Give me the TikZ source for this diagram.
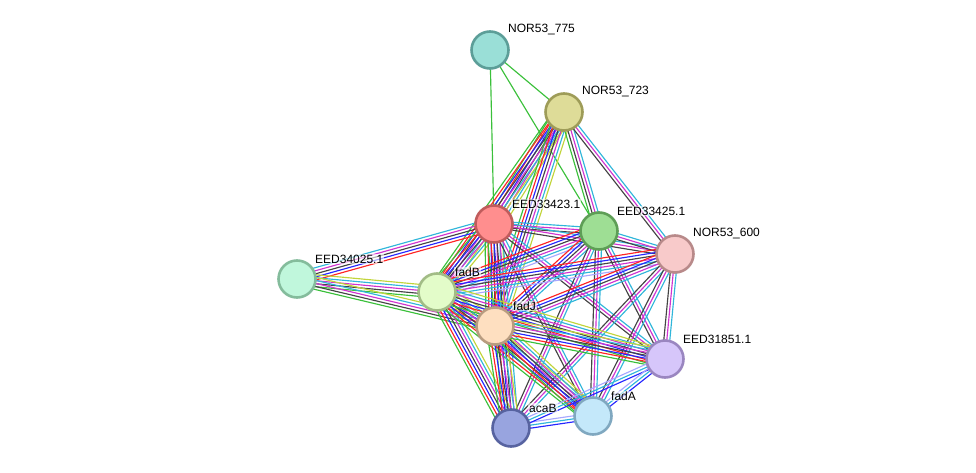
\documentclass[tikz,border=0pt]{standalone}
\usepackage{fontspec}
\setmainfont{Liberation Sans}
\usetikzlibrary{calc,backgrounds}

\definecolor{ng}{HTML}{3AC03A}
\definecolor{fu}{HTML}{FF2424}
\definecolor{co}{HTML}{2626FF}
\definecolor{cx}{HTML}{444444}
\definecolor{ex}{HTML}{D033D0}
\definecolor{db}{HTML}{30B6DA}
\definecolor{tm}{HTML}{C2D43A}
\definecolor{ho}{HTML}{A8A8FF}

\definecolor{f775}{HTML}{9ADFD7}\definecolor{d775}{HTML}{5C9E98}
\definecolor{f723}{HTML}{DEDC98}\definecolor{d723}{HTML}{9E9C58}
\definecolor{fE23}{HTML}{FF8E8E}\definecolor{dE23}{HTML}{C05C5C}
\definecolor{fE25}{HTML}{9EDE94}\definecolor{dE25}{HTML}{5E9E56}
\definecolor{f600}{HTML}{F8CACA}\definecolor{d600}{HTML}{B88A8A}
\definecolor{fE34}{HTML}{C0F7DC}\definecolor{dE34}{HTML}{84BC9C}
\definecolor{ffB}{HTML}{E3FCC9}\definecolor{dfB}{HTML}{A2BC86}
\definecolor{ffJ}{HTML}{FEDFC0}\definecolor{dfJ}{HTML}{B89C80}
\definecolor{fE51}{HTML}{D6C6FA}\definecolor{dE51}{HTML}{9A86C0}
\definecolor{ffA}{HTML}{C4E8FA}\definecolor{dfA}{HTML}{80A8C0}
\definecolor{fcB}{HTML}{98A4DF}\definecolor{dcB}{HTML}{5763A0}

\newcommand{\evid}[3]{%
  \foreach \col [count=\i] in {#3} {\xdef\nlines{\i}}
  \foreach \col [count=\i] in {#3} {
    \pgfmathsetmacro\off{(\i-(\nlines+1)/2)*3}
    \draw[\col, bundle] ($(#1)!\off pt!90:(#2)$) -- ($(#2)!\off pt!-90:(#1)$);
  }
}

\begin{document}
\begin{tikzpicture}[x=1pt, y=-1pt,
  prot/.style={circle, minimum size=37pt, inner sep=0pt, line width=2.6pt},
  lbl/.style={font=\fontsize{12}{14}\selectfont, anchor=west, fill=white,
              fill opacity=0.6, text opacity=1, inner sep=1pt},
  bundle/.style={line width=1.15pt}]
  \useasboundingbox (0,0) rectangle (976,473);

  \node[prot, fill=f775, draw=d775] (n775) at (490,50) {};
  \node[prot, fill=f723, draw=d723] (n723) at (564,112) {};
  \node[prot, fill=fE23, draw=dE23] (nE23) at (494,224) {};
  \node[prot, fill=fE25, draw=dE25] (nE25) at (599,231) {};
  \node[prot, fill=f600, draw=d600] (n600) at (675,254) {};
  \node[prot, fill=fE34, draw=dE34] (nE34) at (297,279) {};
  \node[prot, fill=ffB, draw=dfB] (fadB) at (437,292) {};
  \node[prot, fill=ffJ, draw=dfJ] (fadJ) at (495,326) {};
  \node[prot, fill=fE51, draw=dE51] (nE51) at (665,359) {};
  \node[prot, fill=ffA, draw=dfA] (fadA) at (593,416) {};
  \node[prot, fill=fcB, draw=dcB] (acaB) at (511,428) {};

  \begin{scope}[on background layer]
    \evid{n775}{n723}{ng}
    \evid{n775}{nE23}{ng}
    \evid{n775}{nE25}{ng}
    \evid{n723}{nE23}{ng,fu,co,cx,ex,db,tm}
    \evid{n723}{fadB}{ng,fu,co,cx,ex,db,tm}
    \evid{n723}{fadJ}{ng,fu,co,cx,ex,db,tm}
    \evid{n723}{nE25}{ng,cx,ex,db}
    \evid{n723}{n600}{cx,ex,db}
    \evid{nE34}{nE23}{fu,co,cx,ex,db}
    \evid{nE34}{fadB}{ng,cx,ex,db,tm}
    \evid{nE34}{fadJ}{ng,cx,ex,db,tm}
    \evid{nE23}{fadB}{ng,fu,co,cx,ex,db,tm}
    \evid{nE23}{fadJ}{ng,fu,co,cx,ex,db,tm}
    \evid{nE23}{acaB}{ng,fu,co,cx,ex,db}
    \evid{nE23}{nE25}{cx,ex,db}
    \evid{nE23}{n600}{cx,ex,db}
    \evid{nE23}{fadA}{cx,ex,db}
    \evid{nE23}{nE51}{cx,ex,db}
    \evid{nE25}{fadB}{fu,co,cx,ex,db,ho}
    \evid{nE25}{fadJ}{fu,co,cx,ex,db}
    \evid{nE25}{n600}{cx,ex,db}
    \evid{nE25}{acaB}{cx,ex,db}
    \evid{nE25}{fadA}{cx,ex,db}
    \evid{nE25}{nE51}{cx,ex,db}
    \evid{n600}{fadB}{fu,co,cx,ex,db,ho}
    \evid{n600}{fadJ}{fu,co,cx,ex,db}
    \evid{n600}{acaB}{cx,ex,db}
    \evid{n600}{fadA}{cx,ex,db}
    \evid{n600}{nE51}{cx,ex,db}
    \evid{fadB}{fadJ}{ng,fu,co,cx,ex,db,tm}
    \evid{fadB}{acaB}{ng,fu,co,cx,ex,db,tm}
    \evid{fadB}{fadA}{ng,fu,co,cx,ex,db,tm}
    \evid{fadB}{nE51}{ng,fu,co,cx,ex,db,tm}
    \evid{fadJ}{acaB}{ng,fu,co,cx,ex,db,tm}
    \evid{fadJ}{fadA}{ng,fu,co,cx,ex,db,tm}
    \evid{fadJ}{nE51}{ng,fu,co,cx,ex,db,tm}
    \evid{acaB}{fadA}{co,db,ho}
    \evid{acaB}{nE51}{co,db,ho}
    \evid{fadA}{nE51}{co,db,ho}
  \end{scope}

  \node[lbl] (t775) at ([shift={(17,-20)}]n775) {NOR53\_775};
  \node[lbl] (t723) at ([shift={(17,-20)}]n723) {NOR53\_723};
  \node[lbl] (tE23) at ([shift={(17,-20)}]nE23) {EED33423.1};
  \node[lbl] (tE25) at ([shift={(17,-20)}]nE25) {EED33425.1};
  \node[lbl] (t600) at ([shift={(17,-20)}]n600) {NOR53\_600};
  \node[lbl] (tE34) at ([shift={(17,-20)}]nE34) {EED34025.1};
  \node[lbl] (tfadB) at ([shift={(17,-20)}]fadB) {fadB};
  \node[lbl] (tfadJ) at ([shift={(17,-20)}]fadJ) {fadJ};
  \node[lbl] (tE51) at ([shift={(17,-20)}]nE51) {EED31851.1};
  \node[lbl] (tfadA) at ([shift={(17,-20)}]fadA) {fadA};
  \node[lbl] (tacaB) at ([shift={(17,-20)}]acaB) {acaB};
\end{tikzpicture}
\end{document}
